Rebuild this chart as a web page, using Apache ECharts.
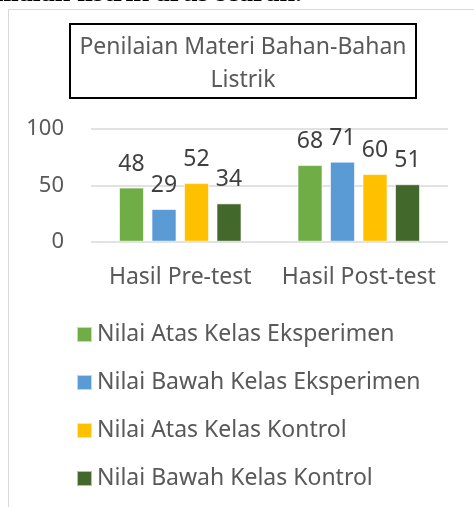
<!DOCTYPE html>
<html>
<head>
<meta charset="utf-8">
<script src="https://cdn.jsdelivr.net/npm/echarts@6/dist/echarts.min.js"></script>
<style>html,body{margin:0;padding:0;background:#fff;}#c{width:474px;height:507px;}</style>
</head>
<body>
<div id="c"></div>
<script>
const categories = ['Hasil Pre-test', 'Hasil Post-test'];
const seriesNames = ['Nilai Atas Kelas Eksperimen', 'Nilai Bawah Kelas Eksperimen', 'Nilai Atas Kelas Kontrol', 'Nilai Bawah Kelas Kontrol'];
const atasEksperimen = [48, 68];
const bawahEksperimen = [29, 71];
const atasKontrol = [52, 60];
const bawahKontrol = [34, 51];
const colors = ['#70AD47', '#5B9BD5', '#FFC000', '#43682B'];
const titleLines = ['Penilaian Materi Bahan-Bahan', 'Listrik'];
const headerText = 'nilaian listrik arus searah.';

const FONT = 'Noto Sans';
const TXT = '#595959';
const values = [atasEksperimen, bawahEksperimen, atasKontrol, bawahKontrol];

const chart = echarts.init(document.getElementById('c'), null, {renderer: 'canvas'});
chart.setOption({
  animation: false,
  color: colors,
  textStyle: {fontFamily: FONT},
  grid: {left: 91, right: 26, top: 129, bottom: 265.3, containLabel: false},
  xAxis: {
    type: 'category', data: categories,
    axisLine: {show: false}, axisTick: {show: false},
    axisLabel: {fontSize: 23, color: TXT, margin: 24, fontFamily: FONT, interval: 0}
  },
  yAxis: {
    type: 'value', min: 0, max: 100, interval: 50,
    axisLine: {show: false}, axisTick: {show: false},
    axisLabel: {fontSize: 22, color: TXT, margin: 27, fontFamily: FONT},
    splitLine: {lineStyle: {color: '#d9d9d9', width: 1.5}}
  },
  legend: {
    orient: 'vertical', left: 71, top: 318,
    itemWidth: 15, itemHeight: 15, itemGap: 25,
    icon: 'rect',
    textStyle: {fontSize: 23, color: TXT, fontFamily: FONT},
    data: seriesNames
  },
  series: seriesNames.map((n, i) => ({
    name: n, type: 'bar', data: values[i],
    barWidth: 25, barGap: '30%',
    itemStyle: {borderColor: 'rgba(255,255,255,0.6)', borderWidth: 1},
    label: {show: true, position: 'top', distance: 12, fontSize: 23, color: '#404040', fontFamily: FONT}
  })),
  graphic: [
    {type: 'rect', shape: {x: 8.5, y: 9.5, width: 520, height: 520}, style: {fill: 'none', stroke: '#d9d9d9', lineWidth: 1}, z: 0},
    {type: 'text', x: 302, y: -6, z: 10, style: {text: headerText, fontFamily: 'Liberation Serif', fontWeight: 'bold', fontSize: 28, fill: '#000', align: 'right', verticalAlign: 'middle'}},
    {type: 'rect', shape: {x: 70, y: 24, width: 346, height: 74}, style: {fill: '#fff', stroke: '#000', lineWidth: 2}},
    {type: 'text', x: 243, y: 47, style: {text: titleLines[0], fontFamily: FONT, fontSize: 23, fill: TXT, align: 'center', verticalAlign: 'middle'}},
    {type: 'text', x: 243, y: 80, style: {text: titleLines[1], fontFamily: FONT, fontSize: 23, fill: TXT, align: 'center', verticalAlign: 'middle'}}
  ]
});
</script>
</body>
</html>
